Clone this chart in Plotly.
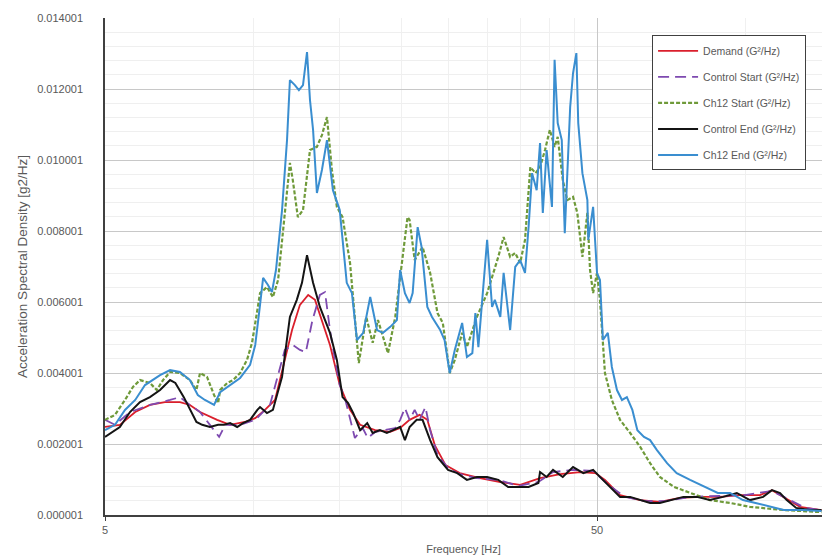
import plotly.graph_objects as go

# ---------------- data ----------------
demand_f = [5.0, 5.36, 5.76, 6.17, 6.62, 7.10, 7.44, 7.80, 8.45, 8.98, 9.62, 10.1, 10.57, 11.08, 11.6, 12.0,
            12.45, 12.94, 13.36, 13.8, 14.33, 15.0, 15.74, 16.5, 17.7, 19.0, 19.9, 20.8, 21.8, 22.6, 23.4,
            24.6, 26.3, 28.9, 31.8, 34.9, 38.3, 42.1, 46.2, 49.6, 51.9, 55.7, 61.2, 67.1, 73.7, 81.0, 88.9,
            97.6, 107.2, 113.4, 120.6, 129.3, 143.0]
demand_v = [0.00248, 0.00254, 0.00290, 0.00310, 0.00318, 0.00318, 0.00310, 0.00290, 0.00268, 0.00254, 0.00262,
            0.00273, 0.00296, 0.00324, 0.00437, 0.00521, 0.00592, 0.00620, 0.00606, 0.00549, 0.00479, 0.00366,
            0.00296, 0.00254, 0.00239, 0.00234, 0.00245, 0.00268, 0.00282, 0.00268, 0.00197, 0.00141, 0.00118,
            0.00104, 0.00093, 0.00085, 0.00104, 0.00115, 0.00121, 0.00118, 0.00099, 0.00056, 0.00042, 0.00037,
            0.00048, 0.00051, 0.00051, 0.00056, 0.00056, 0.00070, 0.00048, 0.00023, 0.00014]

ctrl_start_f = [5.0, 5.24, 5.62, 6.17, 6.78, 7.10, 7.44, 7.80, 8.17, 8.53, 8.78, 9.41, 10.1, 10.82, 11.6, 12.04,
                12.45, 12.8, 13.2, 13.67, 14.0, 14.33, 14.67, 15.0, 15.4, 15.74, 16.1, 16.7, 17.1, 17.7, 18.5,
                19.45, 19.9, 20.35, 20.8, 21.3, 21.8, 22.4, 22.9, 23.7, 24.9, 26.3, 28.5, 31.5, 34.6, 38.0,
                40.7, 44.7, 49.1, 53.1, 57.0, 62.7, 68.8, 77.3, 88.9, 99.8, 113.4, 123.4, 132.4, 143.0]
ctrl_start_v = [0.00268, 0.00254, 0.00290, 0.00310, 0.00324, 0.00332, 0.00310, 0.00290, 0.00254, 0.00220,
                0.00254, 0.00254, 0.00268, 0.00310, 0.00465, 0.00479, 0.00465, 0.00459, 0.00549, 0.00620,
                0.00628, 0.00521, 0.00437, 0.00366, 0.00324, 0.00268, 0.00217, 0.00245, 0.00217, 0.00234,
                0.00239, 0.00245, 0.00268, 0.00301, 0.00268, 0.00296, 0.00268, 0.00304, 0.00239, 0.00169,
                0.00132, 0.00115, 0.00104, 0.00099, 0.00082, 0.00093, 0.00121, 0.00127, 0.00124, 0.00082,
                0.00051, 0.00039, 0.00039, 0.00051, 0.00054, 0.00056, 0.00068, 0.00042, 0.00020, 0.00014]

ch12_start_f = [5.0, 5.24, 5.49, 5.70, 5.89, 6.17, 6.37, 6.56, 6.78, 7.10, 7.44, 7.67, 7.80, 8.06, 8.33, 8.49,
                8.57, 8.86, 9.10, 9.41, 9.72, 9.95, 10.2, 10.33, 10.67, 10.97, 11.24, 11.5, 11.88, 12.04, 12.33,
                12.63, 13.05, 13.48, 13.8, 14.13, 14.46, 14.8, 15.2, 15.74, 15.98, 16.4, 16.98, 17.5, 17.94,
                18.8, 19.45, 19.9, 20.6, 20.8, 21.3, 22.1, 22.9, 23.7, 24.3, 25.1, 25.7, 26.6, 27.2, 28.5,
                29.9, 31.5, 32.3, 33.3, 34.1, 34.9, 35.7, 36.6, 37.5, 38.3, 39.2, 40.1, 41.0, 41.6, 42.6,
                43.5, 44.7, 45.6, 46.7, 47.8, 48.4, 49.1, 50.0, 50.7, 51.9, 53.6, 55.7, 58.4, 61.2, 64.1,
                67.1, 71.7, 77.3, 84.8, 93.2, 102.3, 119.8, 143.0]
ch12_start_v = [0.00268, 0.00282, 0.00324, 0.00361, 0.00380, 0.00372, 0.00352, 0.00380, 0.00403, 0.00400,
                0.00380, 0.00352, 0.00400, 0.00389, 0.00338, 0.00315, 0.00352, 0.00372, 0.00380, 0.00400,
                0.00437, 0.00485, 0.00577, 0.00625, 0.00642, 0.00614, 0.00662, 0.00803, 0.00992, 0.00944,
                0.00839, 0.00859, 0.01028, 0.01037, 0.01070, 0.01121, 0.00972, 0.00868, 0.00839, 0.00710,
                0.00614, 0.00428, 0.00558, 0.00485, 0.00549, 0.00456, 0.00558, 0.00670, 0.00839, 0.00831,
                0.00718, 0.00755, 0.00682, 0.00569, 0.00541, 0.00400, 0.00437, 0.00513, 0.00473, 0.00558,
                0.00625, 0.00727, 0.00783, 0.00727, 0.00738, 0.00710, 0.00775, 0.00980, 0.00963, 0.00980,
                0.01028, 0.01085, 0.01037, 0.01065, 0.00944, 0.00887, 0.00896, 0.00851, 0.00727, 0.00851,
                0.00690, 0.00625, 0.00682, 0.00606, 0.00400, 0.00324, 0.00268, 0.00231, 0.00192, 0.00146,
                0.00107, 0.00079, 0.00062, 0.00042, 0.00034, 0.00023, 0.00014, 0.00008]

ctrl_end_f = [5.0, 5.36, 5.62, 5.89, 6.17, 6.47, 6.78, 6.95, 7.23, 7.44, 7.67, 7.88, 8.17, 8.49, 8.73, 8.98,
              9.28, 9.54, 9.86, 10.2, 10.33, 10.67, 10.97, 11.45, 11.88, 12.27, 12.57, 12.87, 13.24, 13.67,
              14.33, 14.8, 15.2, 15.6, 15.98, 16.5, 17.06, 17.5, 18.1, 18.7, 19.2, 19.9, 20.35, 20.8, 21.5,
              22.1, 22.9, 23.7, 24.9, 26.0, 27.2, 28.5, 29.9, 31.5, 33.0, 34.6, 36.3, 38.0, 38.3, 39.5, 40.7,
              42.6, 44.7, 46.9, 49.1, 51.4, 53.1, 55.7, 58.4, 61.2, 64.1, 67.1, 70.4, 74.9, 79.8, 84.8, 90.2,
              96.2, 102.3, 108.8, 113.4, 117.8, 121.5, 127.0, 135.5, 143.0]
ctrl_end_v = [0.00220, 0.00248, 0.00290, 0.00318, 0.00332, 0.00352, 0.00380, 0.00372, 0.00332, 0.00296,
              0.00262, 0.00254, 0.00248, 0.00254, 0.00254, 0.00259, 0.00248, 0.00259, 0.00268, 0.00296,
              0.00304, 0.00287, 0.00296, 0.00389, 0.00558, 0.00606, 0.00654, 0.00732, 0.00654, 0.00586,
              0.00513, 0.00437, 0.00332, 0.00315, 0.00287, 0.00239, 0.00259, 0.00231, 0.00239, 0.00231,
              0.00239, 0.00248, 0.00211, 0.00248, 0.00268, 0.00268, 0.00211, 0.00163, 0.00127, 0.00118,
              0.00099, 0.00107, 0.00107, 0.00099, 0.00079, 0.00079, 0.00079, 0.00090, 0.00121, 0.00107,
              0.00127, 0.00107, 0.00135, 0.00118, 0.00127, 0.00099, 0.00079, 0.00051, 0.00051, 0.00042,
              0.00034, 0.00034, 0.00042, 0.00051, 0.00051, 0.00042, 0.00051, 0.00062, 0.00042, 0.00051,
              0.00070, 0.00062, 0.00042, 0.00020, 0.00014, 0.00014]

ch12_end_f = [5.0, 5.24, 5.49, 5.76, 6.03, 6.47, 6.78, 7.10, 7.44, 7.72, 7.98, 8.33, 8.57, 8.98, 9.41, 9.86,
              10.1, 10.33, 10.48, 10.72, 10.92, 11.13, 11.45, 11.72, 11.88, 12.16, 12.39, 12.63, 12.87, 13.05,
              13.24, 13.48, 13.8, 14.13, 14.53, 15.0, 15.5, 15.88, 16.26, 16.74, 17.3, 17.86, 18.36, 19.0,
              19.6, 19.9, 20.35, 20.8, 21.1, 21.6, 22.0, 22.6, 23.1, 24.0, 24.5, 25.1, 25.7, 26.6, 27.2,
              27.9, 28.3, 28.7, 29.9, 30.6, 31.0, 31.8, 32.3, 33.3, 34.1, 34.9, 35.7, 36.3, 36.9, 37.7,
              38.3, 38.8, 39.5, 40.5, 41.0, 41.6, 42.4, 43.0, 44.1, 44.7, 45.4, 45.8, 46.7, 47.8, 48.0,
              49.1, 50.0, 50.7, 51.4, 52.6, 53.6, 54.9, 56.2, 57.5, 59.0, 60.4, 62.3, 64.1, 66.2, 69.4,
              72.6, 77.3, 82.6, 88.0, 93.2, 99.0, 105.0, 112.4, 119.8, 131.0, 143.0]
ch12_end_v = [0.00239, 0.00254, 0.00296, 0.00324, 0.00366, 0.00394, 0.00408, 0.00403, 0.00380, 0.00338,
              0.00324, 0.00310, 0.00346, 0.00366, 0.00386, 0.00423, 0.00479, 0.00592, 0.00668, 0.00648,
              0.00628, 0.00690, 0.00859, 0.01056, 0.01225, 0.01211, 0.01197, 0.01211, 0.01304, 0.01169,
              0.01085, 0.00907, 0.00972, 0.01056, 0.00915, 0.00859, 0.00654, 0.00625, 0.00493, 0.00513,
              0.00614, 0.00521, 0.00513, 0.00530, 0.00549, 0.00690, 0.00625, 0.00597, 0.00625, 0.00811,
              0.00755, 0.00586, 0.00558, 0.00521, 0.00493, 0.00400, 0.00465, 0.00541, 0.00445, 0.00456,
              0.00569, 0.00473, 0.00775, 0.00586, 0.00606, 0.00558, 0.00682, 0.00521, 0.00699, 0.00718,
              0.00682, 0.00811, 0.00963, 0.00915, 0.01048, 0.00851, 0.01028, 0.00868, 0.01282, 0.01104,
              0.01056, 0.00794, 0.01149, 0.01245, 0.01301, 0.01104, 0.00963, 0.00887, 0.00775, 0.00868,
              0.00682, 0.00662, 0.00493, 0.00513, 0.00417, 0.00352, 0.00324, 0.00332, 0.00296, 0.00239,
              0.00220, 0.00211, 0.00183, 0.00146, 0.00118, 0.00099, 0.00079, 0.00062, 0.00062, 0.00042,
              0.00034, 0.00023, 0.00014, 0.00014, 0.00011]

y_tick_vals = [0.0, 0.002, 0.004, 0.006, 0.008, 0.010, 0.012, 0.014]
y_tick_labels = ["0.000001", "0.002001", "0.004001", "0.006001", "0.008001", "0.010001", "0.012001", "0.014001"]
x_tick_vals = [5, 50]
x_tick_labels = ["5", "50"]
x_minor_vals = [10, 15, 20, 25, 30, 35, 40, 45, 100]

# ---------------- figure ----------------
FONT = "Liberation Sans, Arial, sans-serif"
TXT = "#595959"

series = [
    ("Demand (G²/Hz)", demand_f, demand_v, "#DA1F2C", "solid", 1.8),
    ("Control Start (G²/Hz)", ctrl_start_f, ctrl_start_v, "#7E4AB0", "11px,6px", 1.8),
    ("Ch12 Start (G²/Hz)", ch12_start_f, ch12_start_v, "#6F9A3A", "4px,2px", 2.2),
    ("Control End (G²/Hz)", ctrl_end_f, ctrl_end_v, "#141414", "solid", 2.0),
    ("Ch12 End (G²/Hz)", ch12_end_f, ch12_end_v, "#3A8ED0", "solid", 2.0),
]

fig = go.Figure()
for i, (name, fx, fy, col, dash, w) in enumerate(series):
    fig.add_trace(go.Scatter(x=fx, y=fy, mode="lines", name=name, legendgroup=f"g{i}",
                             line=dict(color=col, dash=dash, width=w)))

fig.update_layout(
    width=823, height=560,
    margin=dict(l=105, r=1, t=18, b=45),
    paper_bgcolor="white", plot_bgcolor="white",
    font=dict(family=FONT, size=11, color=TXT),
    showlegend=True,
    legend=dict(x=0.763, y=0.965, xanchor="left", yanchor="top",
                bgcolor="white", bordercolor="#404040", borderwidth=1,
                font=dict(family=FONT, size=10.5, color=TXT),
                itemwidth=40,
                tracegroupgap=7, traceorder="grouped"),
    xaxis=dict(type="log", range=[0.69897, 2.1563],
               tickmode="array", tickvals=x_tick_vals, ticktext=x_tick_labels,
               showgrid=True, gridcolor="#C8C8C8", gridwidth=1,
               minor=dict(tickmode="array", tickvals=x_minor_vals, showgrid=True,
                          gridcolor="#F0F0F0", ticks=""),
               showline=True, linecolor="#404040", linewidth=1.5,
               ticks="outside", ticklen=4, tickcolor="#404040",
               title=dict(text="Frequency [Hz]", standoff=10, font=dict(size=11, color=TXT)),
               zeroline=False),
    yaxis=dict(range=[0, 0.014],
               tickmode="array", tickvals=y_tick_vals, ticktext=y_tick_labels,
               showgrid=True, gridcolor="#C8C8C8", gridwidth=1,
               minor=dict(tick0=0, dtick=0.0004, showgrid=True, gridcolor="#EFEFEF", ticks=""),
               showline=True, linecolor="#404040", linewidth=1.5,
               ticks="outside", ticklen=18, tickcolor="rgba(0,0,0,0)",
               title=dict(text="Acceleration Spectral Density [g2/Hz]", standoff=6,
                          font=dict(size=13.5, color=TXT)),
               zeroline=False),
)

fig.write_html("out.html")
